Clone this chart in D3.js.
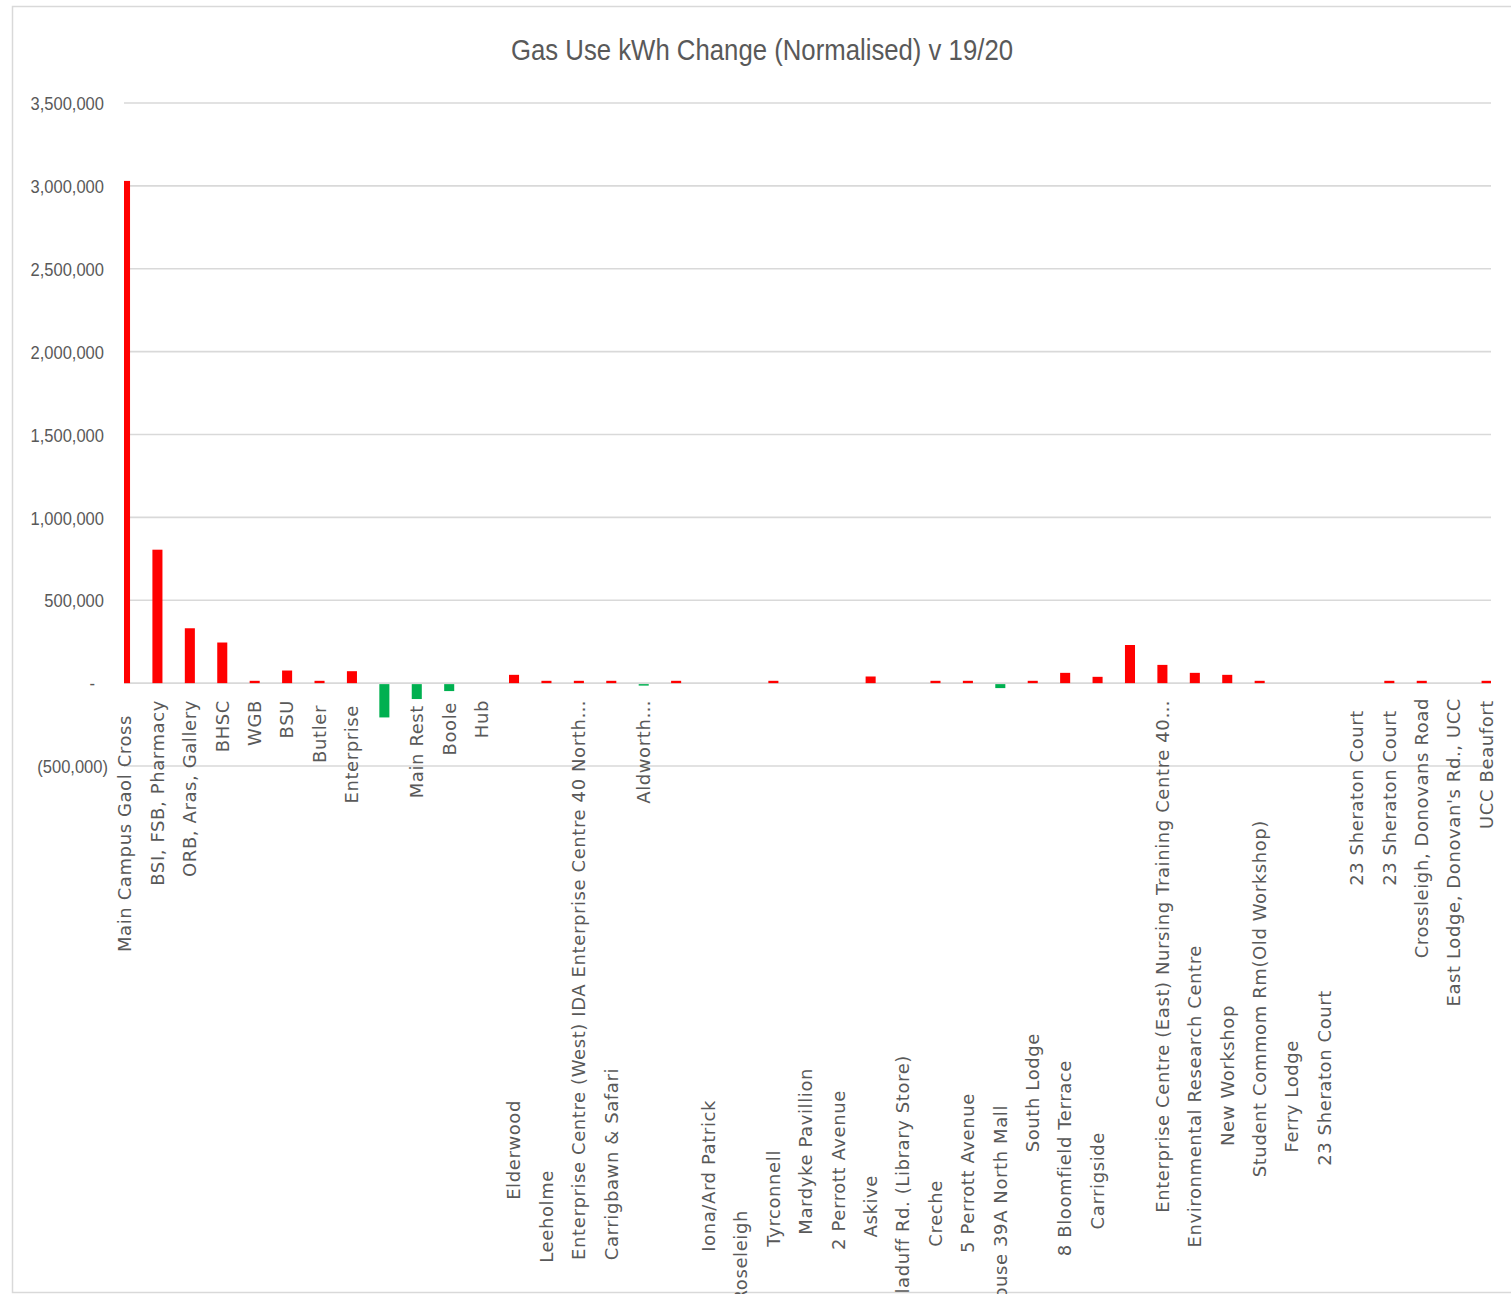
<!DOCTYPE html>
<html>
<head>
<meta charset="utf-8">
<script src="https://cdn.jsdelivr.net/npm/d3@7/dist/d3.min.js"></script>
<style>
  body { margin: 0; background: #fff; overflow: hidden; }
  text { fill: #595959; }
</style>
</head>
<body>
<div id="chart"></div>
<script>
// sites, in the order the sheet lists them (blank ones have no name in the source)
var categories = [
  "Main Campus Gaol Cross", "BSI, FSB, Pharmacy", "ORB, Aras, Gallery", "BHSC", "WGB", "BSU",
  "Butler", "Enterprise", "", "Main Rest", "Boole", "Hub", "Elderwood", "Leeholme",
  "Enterprise Centre (West) IDA Enterprise Centre 40 North\u2026", "Carrigbawn & Safari",
  "Aldworth\u2026", "", "Iona/Ard Patrick", "Roseleigh", "Tyrconnell", "Mardyke Pavillion",
  "2 Perrott Avenue", "Askive", "Killaduff Rd. (Library Store)", "Creche", "5 Perrott Avenue",
  "House 39A North Mall", "South Lodge", "8 Bloomfield Terrace", "Carrigside", "",
  "Enterprise Centre (East) Nursing Training Centre 40\u2026", "Environmental Research Centre",
  "New Workshop", "Student Commom Rm(Old Workshop)", "Ferry Lodge", "23 Sheraton Court",
  "23 Sheraton Court", "23 Sheraton Court", "Crossleigh, Donovans Road",
  "East Lodge, Donovan's Rd., UCC", "UCC Beaufort"
];

// kWh change v 19/20 (normalised)
var changes = [
  3030000, 805000, 331000, 245000, 14000, 76000,
  14000, 72000, -207000, -96000, -48000, 0, 50000, 14000,
  14000, 14000,
  -15000, 14000, 0, 0, 14000, 0,
  0, 40000, 0, 14000, 14000,
  -30000, 14000, 62000, 38000, 230000,
  110000, 62000,
  50000, 14000, 0, 0,
  0, 14000, 14000,
  0, 14000
];

var yTicks = [-500000, 0, 500000, 1000000, 1500000, 2000000, 2500000, 3000000, 3500000];

var title = "Gas Use kWh Change (Normalised) v 19/20";

// ---- layout ----
var W = 1511, H = 1294;
var plotLeft = 124, plotRight = 1491;
// where each rotated label ends (the sheet pads many names with spaces, so they sit low)
var labelTop = [
  715, 700, 700, 700, 700, 700, 705, 705, 700, 705, 702, 700, 1100, 1170,
  700, 1068, 700, 700, 1100, 1210, 1150, 1068, 1090, 1175, 1055, 1180, 1093,
  1105, 1033, 1060, 1132, 700, 700, 945, 1005, 820, 1040, 990, 710, 710, 698, 698, 700
];

var svg = d3.select("#chart").append("svg")
    .attr("width", W)
    .attr("height", H);

// chart frame (runs off the right edge in the original)
svg.append("rect")
    .attr("x", 12.5).attr("y", 6.5)
    .attr("width", 1600).attr("height", 1286)
    .attr("fill", "#fff")
    .attr("stroke", "#d9d9d9")
    .attr("stroke-width", 1.5);

var x = d3.scaleBand()
    .domain(d3.range(categories.length))
    .range([108.8, 1502.8])
    .paddingInner(0.69)
    .paddingOuter(0.345);

var y = d3.scaleLinear()
    .domain([-500000, 3500000])
    .range([766, 103]);

svg.append("text")
    .attr("x", 762)
    .attr("y", 60)
    .attr("text-anchor", "middle")
    .attr("textLength", 502)
    .attr("lengthAdjust", "spacingAndGlyphs")
    .style("font-family", "'Liberation Sans', Arial, sans-serif")
    .style("font-size", "30px")
    .text(title);

// gridlines
svg.append("g")
    .attr("class", "grid")
    .selectAll("line")
    .data(yTicks)
    .enter().append("line")
    .attr("x1", plotLeft)
    .attr("x2", plotRight)
    .attr("y1", function (d) { return y(d); })
    .attr("y2", function (d) { return y(d); })
    .attr("stroke", "#d9d9d9")
    .attr("stroke-width", 1.6);

// y axis labels, accounting style
var fmt = d3.format(",");
var yAxis = d3.axisLeft(y)
    .tickValues(yTicks)
    .tickSize(0)
    .tickFormat(function (d) {
        if (d === 0) return "-";
        return d < 0 ? "(" + fmt(-d) + ")" : fmt(d);
    });

var gy = svg.append("g")
    .attr("transform", "translate(104,0)")
    .call(yAxis);
gy.select(".domain").remove();
gy.selectAll("text")
    .attr("x", 0)
    .attr("dy", "0.35em")
    .attr("transform", function (d) {
        var dx = d < 0 ? 4 : (d === 0 ? -9 : 0);
        return "translate(" + dx + ",0) scale(0.87,1)";
    })
    .style("font-family", "'Liberation Sans', Arial, sans-serif")
    .style("font-size", "19px")
    .style("fill", "#595959");

// bars
svg.append("defs").append("clipPath")
    .attr("id", "clip")
    .append("rect")
    .attr("x", plotLeft)
    .attr("y", 0)
    .attr("width", plotRight - plotLeft)
    .attr("height", H);

svg.append("g")
    .attr("clip-path", "url(#clip)")
    .selectAll("rect")
    .data(changes)
    .enter().append("rect")
    .attr("x", function (d, i) { return x(i); })
    .attr("width", x.bandwidth())
    .attr("y", function (d) { return d >= 0 ? y(d) : y(0) + 1; })
    .attr("height", function (d) { return d >= 0 ? y(0) - y(d) : y(d) - y(0) - 1; })
    .attr("fill", function (d) { return d >= 0 ? "#ff0000" : "#00b050"; });

// category labels, rotated
var xAxis = d3.axisBottom(x)
    .tickSize(0)
    .tickFormat(function (i) { return categories[i]; });

var gx = svg.append("g")
    .attr("transform", "translate(0,0)")
    .call(xAxis);
gx.select(".domain").remove();
gx.selectAll("text")
    .attr("x", 0)
    .attr("y", 0)
    .attr("dy", "0.35em")
    .attr("text-anchor", "end")
    .attr("transform", function (i) { return "translate(0," + labelTop[i] + ") rotate(-90)"; })
    .style("font-family", "'DejaVu Sans', sans-serif")
    .style("font-size", "18px")
    .style("letter-spacing", "0.6px")
    .style("fill", "#595959");
</script>
</body>
</html>
